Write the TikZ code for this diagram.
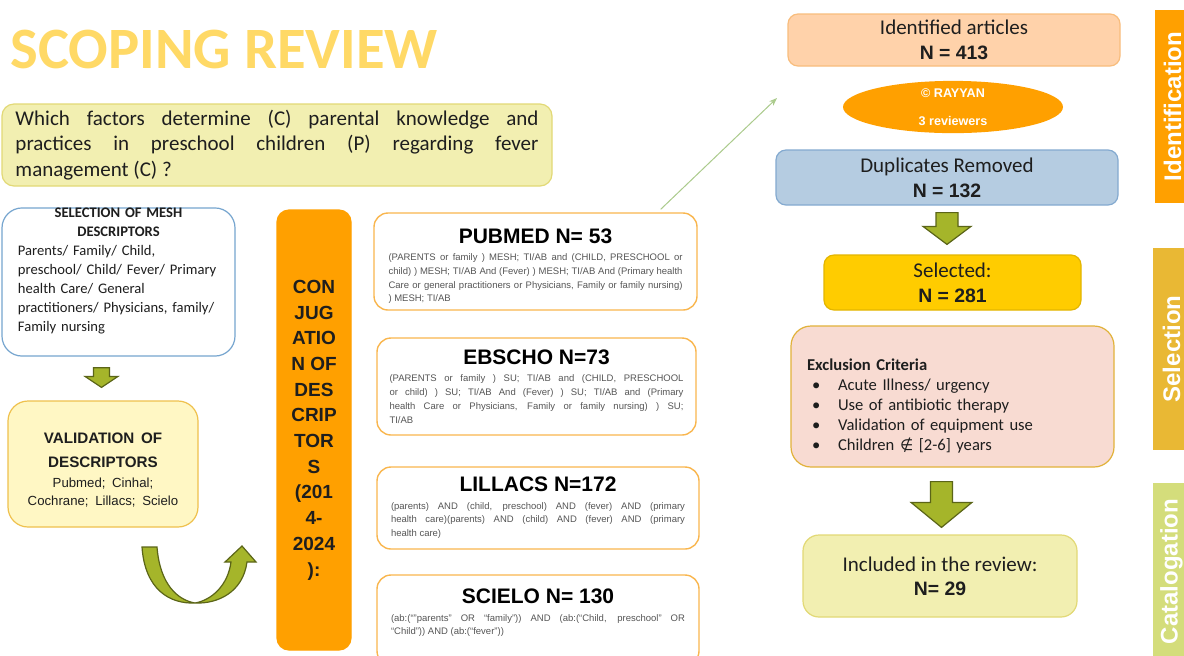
\documentclass[tikz,border=0pt]{standalone}
\usepackage{fontspec}
\setmainfont{Carlito}
\newfontfamily\arial{Liberation Sans}
\newfontfamily\symfont{DejaVu Sans}
\usepackage{tikz}
\usetikzlibrary{calc}
\usetikzlibrary{shapes.geometric}
\usetikzlibrary{arrows.meta}

\definecolor{titleyellow}{HTML}{FFD966}
\definecolor{paleyellow}{HTML}{F2EFB1}
\definecolor{paleline}{HTML}{E2D976}
\definecolor{meshblue}{HTML}{76A5CF}
\definecolor{valfill}{HTML}{FFF7C4}
\definecolor{valline}{HTML}{EFC14D}
\definecolor{conjorange}{HTML}{FFA000}
\definecolor{dbline}{HTML}{F9B64E}
\definecolor{dbtext}{HTML}{555555}
\definecolor{peach}{HTML}{FFD2AA}
\definecolor{peachline}{HTML}{F8BD7D}
\definecolor{dupfill}{HTML}{B5CCE1}
\definecolor{dupline}{HTML}{84AAD0}
\definecolor{selfill}{HTML}{FFCC00}
\definecolor{selline}{HTML}{E3B500}
\definecolor{exclfill}{HTML}{F8DBD2}
\definecolor{exclline}{HTML}{E1B23A}
\definecolor{arrgreen}{HTML}{A5B52A}
\definecolor{arrdark}{HTML}{5B6518}
\definecolor{linegreen}{HTML}{ABCB8C}
\definecolor{selbar}{HTML}{E9B834}
\definecolor{catbar}{HTML}{D4DD7B}
\definecolor{ink}{HTML}{1E1E1E}

\tikzstyle{box} = [draw, line width=0.6pt, rounded corners=5pt, inner sep=0pt, text=ink]
\tikzstyle{db} = [box, draw=dbline, fill=white, rounded corners=7pt, line width=0.7pt, text width=147pt, align=justify, text=dbtext, font=\arial\fontsize{4.75}{6.9}\selectfont]
\tikzstyle{count} = [box, align=center, font=\fontsize{10.5}{12.5}\selectfont]
\tikzstyle{bar} = [inner sep=0pt, text=white, rotate=90, font=\arial\bfseries\fontsize{12}{12}\selectfont]
\tikzstyle{fatarr} = [fill=arrgreen, draw=arrdark, line width=0.6pt]

\newcommand{\dbhead}[2][0pt]{{\centering\color{black}\bfseries\fontsize{10.5}{12}\selectfont\rule{0pt}{#1}#2\par}\vspace{1.7pt}}
\newcommand{\nbold}[1]{{\arial\bfseries\fontsize{9.7}{12.5}\selectfont #1}}
\newcommand{\bul}{\makebox[15.5pt][l]{\hspace{2.5pt}\textbullet}}
% from, to, top gap, bottom gap, shaft half, head half, head length, x shift
\newcommand{\fatarrow}[8]{%
  \path (#2.north |- #1.south) ++(#8,#3) coordinate (fatop);
  \path (#2.north) ++(#8,-#4) coordinate (fatip);
  \filldraw[fatarr] ($(fatop)+(-#5,0)$) -- ($(fatop)+(#5,0)$) -- ($(fatip)+(#5,-#7)$)
    -- ($(fatip)+(#6,-#7)$) -- (fatip) -- ($(fatip)+(-#6,-#7)$) -- ($(fatip)+(-#5,-#7)$) -- cycle;}

\begin{document}
\begin{tikzpicture}[x=0.5pt,y=-0.5pt]

	\path[use as bounding box, fill=white] (0,0) rectangle (1184,655);

	% left column
	\node[anchor=base west, inner sep=0pt, text=titleyellow, font=\bfseries\fontsize{29.3}{30}\selectfont] (title) at (10,68) {SCOPING REVIEW};

	\node[box, draw=paleline, fill=paleyellow, rounded corners=6pt, minimum width=275pt, minimum height=41pt,
		text width=261.5pt, align=justify, font=\fontsize{10.5}{12.75}\selectfont] (quest) at (277,145)
		{Which factors determine (C) parental knowledge and\linebreak practices in preschool children (P) regarding fever\linebreak management (C) ?};

	\node[box, draw=meshblue, fill=white, rounded corners=10pt, minimum width=116.5pt, minimum height=72pt,
		text width=100.5pt, font=\fontsize{7.3}{9.5}\selectfont] (mesh) at (118.5,282)
		{\raggedright{\centering\bfseries SELECTION OF MESH\\ DESCRIPTORS\par}
		Parents/ Family/ Child,\\ preschool/ Child/ Fever/ Primary\\ health Care/ General\\ practitioners/ Physicians, family/\\ Family nursing\par\vspace{11pt}};

	\node[box, draw=valline, fill=valfill, rounded corners=10pt, minimum width=95pt, minimum height=63pt,
		text width=90pt, font=\arial] (valid) at (103,464)
		{\centering{\bfseries\fontsize{7.6}{12}\selectfont\rule{0pt}{11.5pt}VALIDATION OF\\ DESCRIPTORS\par}\vspace{1pt}
		{\fontsize{6.6}{9}\selectfont Pubmed; Cinhal;\\ Cochrane; Lillacs; Scielo\par}};

	\fatarrow{mesh}{valid}{11}{13}{8}{16.5}{11}{-1.5}

	\filldraw[fatarr] (142,547) -- (157,547) .. controls (160,585) and (178,600) .. (195,603)
		.. controls (212,600) and (228,585) .. (231,562) -- (225,562) -- (242,546) -- (256,562) -- (247,562)
		.. controls (243,592) and (218,604) .. (195,603) .. controls (170,604) and (145,590) .. (142,547) -- cycle;

	\node[box, draw=conjorange, fill=conjorange, rounded corners=6pt, minimum width=37pt, minimum height=220pt,
		align=center, font=\arial\bfseries\fontsize{9.5}{12.85}\selectfont] (conj) at (314,430)
		{CON\\ JUG\\ ATIO\\ N OF\\ DES\\ CRIP\\ TOR\\ S\\ (201\\ 4-\\ 2024\\ ):};

	% databases
	\node[db, minimum width=161.5pt, minimum height=48.5pt] (pub) at (535.5,261.5)
		{\dbhead[12pt]{PUBMED N= 53}(PARENTS or family ) MESH; TI/AB and (CHILD, PRESCHOOL or\linebreak
		child) ) MESH; TI/AB And (Fever) ) MESH; TI/AB And (Primary health\linebreak
		Care or general practitioners or Physicians, Family or family nursing)\linebreak ) MESH; TI/AB};
	\node[db, minimum width=159.5pt, minimum height=48.5pt] (ebs) at (536.5,386.5)
		{\dbhead{EBSCHO N=73}(PARENTS or family ) SU; TI/AB and (CHILD, PRESCHOOL\linebreak
		or child) ) SU; TI/AB And (Fever) ) SU; TI/AB and (Primary\linebreak
		health Care or Physicians, Family or family nursing) ) SU;\linebreak TI/AB};
	\node[db, minimum width=161pt, minimum height=41pt] (lil) at (538,508)
		{\dbhead{LILLACS N=172}(parents) AND (child, preschool) AND (fever) AND (primary\linebreak
		health care)(parents) AND (child) AND (fever) AND (primary\linebreak health care)};
	\node[db, minimum width=161pt, minimum height=45pt] (sci) at (538,620)
		{\dbhead{SCIELO N= 130}(ab:(“”parents” OR “family”)) AND (ab:(“Child, preschool” OR\linebreak
		“Child”)) AND (ab:(“fever”))\par\vspace{7pt}};

	\coordinate (rt) at (777,98);
	\draw[linegreen, line width=0.5pt, -{Stealth[length=4pt]}] ($(pub.north east)+(-37,-3)$) -- (rt);

	% right column
	\node[count, draw=peachline, fill=peach, minimum width=166pt, minimum height=26pt] (ident) at (954,40)
		{Identified articles\\ \nbold{N = 413}};
	\node[ellipse, fill=conjorange, minimum width=110pt, minimum height=26pt, inner sep=0pt, align=center,
		text=white, font=\arial\bfseries\fontsize{6.3}{14}\selectfont] (rayyan) at (953,107) {© RAYYAN\\ 3 reviewers};
	\node[count, draw=dupline, fill=dupfill, minimum width=171pt, minimum height=27.5pt] (dup) at (947,177.5)
		{Duplicates Removed\\ \nbold{N = 132}};
	\node[count, draw=selline, fill=selfill, minimum width=128.5pt, minimum height=27.5pt] (sel) at (952.5,282.5)
		{Selected:\\ \nbold{N = 281}};
	\node[box, draw=exclline, fill=exclfill, rounded corners=10pt, minimum width=161.5pt, minimum height=70.5pt,
		text width=145.5pt, font=\fontsize{8.3}{10}\selectfont] (excl) at (952.5,396.5)
		{\raggedright\rule{0pt}{15.7pt}{\bfseries Exclusion Criteria}\\ \bul Acute Illness/ urgency\\ \bul Use of antibiotic therapy\\
		\bul Validation of equipment use\\ \bul Children {\symfont\fontsize{7.6}{10}\selectfont ∉} [2-6] years\par};
	\node[count, draw=paleline, fill=paleyellow, rounded corners=8pt, minimum width=137pt, minimum height=41pt,
		font=\fontsize{10.5}{12}\selectfont] (incl) at (940,576)
		{Included in the review:\\ \nbold{N= 29}};

	\fatarrow{dup}{sel}{7}{10}{11}{24}{18}{-5.5}
	\fatarrow{excl}{incl}{14}{7}{11}{30.5}{25}{1.5}

	% phase bars
	\node[bar, fill=conjorange, minimum width=96.5pt, minimum height=17.5pt] (ph1) at (1172.5,106.5) {Identification};
	\node[bar, fill=selbar, minimum width=101pt, minimum height=18.5pt] (ph2) at (1171.5,349) {Selection};
	\node[bar, fill=catbar, minimum width=88.5pt, minimum height=18.5pt] (ph3) at (1171.5,571.5) {Catalogation};

\end{tikzpicture}
\end{document}
